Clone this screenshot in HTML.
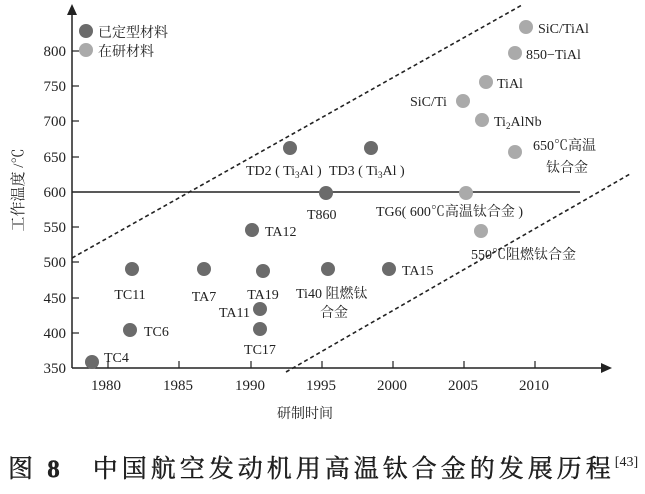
<!DOCTYPE html>
<html><head><meta charset="utf-8"><style>
body{margin:0;background:#fff}
svg text{font-family:"Liberation Serif","Noto Serif CJK SC",serif;fill:#222}
</style></head><body>
<svg width="645" height="489" viewBox="0 0 645 489" xmlns="http://www.w3.org/2000/svg">
<g stroke="#222" stroke-width="1.5" fill="none">
<line x1="72" y1="368" x2="72" y2="12"/>
<line x1="72" y1="368" x2="604" y2="368"/>
<line x1="72" y1="192" x2="580" y2="192"/>
</g>
<polygon points="72,4 67,15 77,15" fill="#222"/>
<polygon points="612,368 601,363 601,373" fill="#222"/>
<g stroke="#222" stroke-width="1.6" stroke-dasharray="4,3">
<line x1="72" y1="258" x2="522" y2="5"/>
<line x1="286" y1="372" x2="630" y2="174"/>
</g>
<g stroke="#222" stroke-width="1.2">
<line x1="72" y1="51" x2="79" y2="51"/><line x1="72" y1="86" x2="79" y2="86"/>
<line x1="72" y1="121" x2="79" y2="121"/><line x1="72" y1="157" x2="79" y2="157"/>
<line x1="72" y1="227" x2="79" y2="227"/><line x1="72" y1="262" x2="79" y2="262"/>
<line x1="72" y1="298" x2="79" y2="298"/><line x1="72" y1="333" x2="79" y2="333"/>
<line x1="108" y1="368" x2="108" y2="361"/><line x1="179" y1="368" x2="179" y2="361"/>
<line x1="251" y1="368" x2="251" y2="361"/><line x1="322" y1="368" x2="322" y2="361"/>
<line x1="393" y1="368" x2="393" y2="361"/><line x1="464" y1="368" x2="464" y2="361"/>
<line x1="535" y1="368" x2="535" y2="361"/>
</g>
<g font-size="15" text-anchor="end">
<text x="66" y="56">800</text><text x="66" y="91">750</text><text x="66" y="126">700</text>
<text x="66" y="162">650</text><text x="66" y="197">600</text><text x="66" y="232">550</text>
<text x="66" y="267">500</text><text x="66" y="303">450</text><text x="66" y="338">400</text>
<text x="66" y="373">350</text>
</g>
<g font-size="15" text-anchor="middle">
<text x="106" y="390">1980</text><text x="178" y="390">1985</text><text x="250" y="390">1990</text>
<text x="321" y="390">1995</text><text x="392" y="390">2000</text><text x="463" y="390">2005</text>
<text x="534" y="390">2010</text>
<text x="305" y="418" font-size="14">研制时间</text>
</g>
<text transform="translate(23,190) rotate(-90)" font-size="15" text-anchor="middle">工作温度 /℃</text>
<g fill="#6b6b6b">
<circle cx="86" cy="31" r="7"/>
<circle cx="92" cy="362" r="7"/><circle cx="130" cy="330" r="7"/><circle cx="132" cy="269" r="7"/>
<circle cx="204" cy="269" r="7"/><circle cx="263" cy="271" r="7"/><circle cx="260" cy="309" r="7"/>
<circle cx="260" cy="329" r="7"/><circle cx="252" cy="230" r="7"/><circle cx="326" cy="193" r="7"/>
<circle cx="290" cy="148" r="7"/><circle cx="371" cy="148" r="7"/><circle cx="328" cy="269" r="7"/>
<circle cx="389" cy="269" r="7"/>
</g>
<g fill="#aaa">
<circle cx="86" cy="50" r="7"/>
<circle cx="526" cy="27" r="7"/><circle cx="515" cy="53" r="7"/><circle cx="486" cy="82" r="7"/>
<circle cx="463" cy="101" r="7"/><circle cx="482" cy="120" r="7"/><circle cx="515" cy="152" r="7"/>
<circle cx="466" cy="193" r="7"/><circle cx="481" cy="231" r="7"/>
</g>
<g font-size="14">
<text x="98" y="37" font-family="Liberation Sans,Noto Sans CJK SC,sans-serif">已定型材料</text>
<text x="98" y="56" font-family="Liberation Sans,Noto Sans CJK SC,sans-serif">在研材料</text>
<text x="104" y="362">TC4</text><text x="144" y="336">TC6</text><text x="130" y="299" text-anchor="middle">TC11</text>
<text x="204" y="301" text-anchor="middle">TA7</text><text x="263" y="299" text-anchor="middle">TA19</text><text x="250" y="317" text-anchor="end">TA11</text>
<text x="260" y="354" text-anchor="middle">TC17</text><text x="265" y="236">TA12</text><text x="307" y="219">T860</text>
<text x="246" y="175">TD2 ( Ti<tspan font-size="9" dy="3">3</tspan><tspan dy="-3">Al )</tspan></text>
<text x="329" y="175">TD3 ( Ti<tspan font-size="9" dy="3">3</tspan><tspan dy="-3">Al )</tspan></text>
<text x="296" y="298">Ti40 阻燃钛</text><text x="320" y="317">合金</text>
<text x="402" y="275">TA15</text>
<text x="538" y="33">SiC/TiAl</text><text x="526" y="59">850−TiAl</text>
<text x="497" y="88">TiAl</text><text x="410" y="106">SiC/Ti</text>
<text x="494" y="126">Ti<tspan font-size="9" dy="3">2</tspan><tspan dy="-3">AlNb</tspan></text>
<text x="533" y="150">650℃高温</text><text x="546" y="172">钛合金</text>
<text x="376" y="216">TG6( 600℃高温钛合金 )</text>
<text x="471" y="259">550℃阻燃钛合金</text>
</g>
<text x="8" y="477" font-size="25" letter-spacing="4" font-family="Liberation Sans,Noto Sans CJK SC,sans-serif" fill="#111" stroke="#111" stroke-width="0.4">图 <tspan font-weight="bold" font-family="Liberation Serif,serif">8</tspan>　中国航空发动机用高温钛合金的发展历程<tspan font-size="14" dy="-11" letter-spacing="0" stroke-width="0">[43]</tspan></text>
</svg>
</body></html>
